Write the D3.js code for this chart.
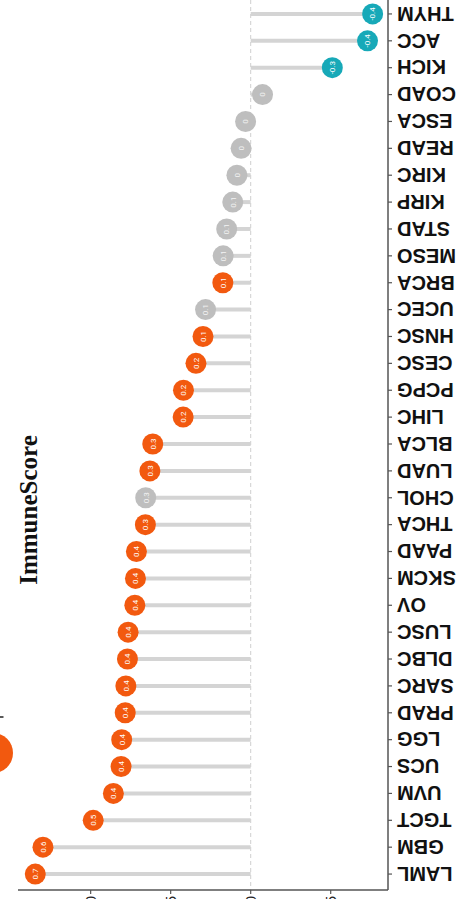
<!DOCTYPE html>
<html>
<head>
<meta charset="utf-8">
<script src="https://cdn.jsdelivr.net/npm/d3@7"></script>
<style>
  body { margin: 0; background: #fff; overflow: hidden; }
  svg { display: block; }
</style>
</head>
<body>
<div id="chart"></div>
<script>
// categories top to bottom as drawn
const cancers = ['THYM','ACC','KICH','COAD','ESCA','READ','KIRC','KIRP','STAD','MESO','BRCA',
  'UCEC','HNSC','CESC','PCPG','LIHC','BLCA','LUAD','CHOL','THCA','PAAD','SKCM','OV',
  'LUSC','DLBC','SARC','PRAD','LGG','UCS','UVM','TGCT','GBM','LAML'];
// correlation with ImmuneScore
const scores = [-0.381,-0.365,-0.255,-0.037,0.016,0.030,0.043,0.056,0.075,0.086,0.087,
  0.141,0.149,0.171,0.210,0.211,0.306,0.315,0.328,0.329,0.357,0.360,0.362,
  0.383,0.385,0.390,0.392,0.403,0.405,0.429,0.492,0.649,0.673];
// pos = significant positive, neg = significant negative, ns = not significant
const groups = ['neg','neg','neg','ns','ns','ns','ns','ns','ns','ns','pos',
  'ns','pos','pos','pos','pos','pos','pos','ns','pos','pos','pos','pos',
  'pos','pos','pos','pos','pos','pos','pos','pos','pos','pos'];
const xTicks = [0.5, 0.25, 0, -0.25];
const xTickLabels = ['0.50', '0.25', '0.00', '-0.25'];

const W = 462, H = 899;
const colors = {pos: '#F2590F', neg: '#17A9B8', ns: '#BEBEBE'};

const svg = d3.select('#chart').append('svg')
  .attr('width', W)
  .attr('height', H);

const axisY = 890, axisX = 388;

const xScale = d3.scaleLinear()
  .domain([0.727, -0.429])
  .range([18, axisX]);

const yScale = d3.scalePoint()
  .domain(cancers)
  .range([0.5, 887.5])
  .padding(0.5);

const data = cancers.map((c, i) => ({name: c, value: scores[i], group: groups[i]}));

// zero reference line
svg.append('line')
  .attr('x1', xScale(0)).attr('x2', xScale(0))
  .attr('y1', 0).attr('y2', axisY)
  .attr('stroke', '#cfcfcf')
  .attr('stroke-width', 1)
  .attr('stroke-dasharray', '4,3');

// stems
svg.append('g').selectAll('line')
  .data(data)
  .enter()
  .append('line')
    .attr('x1', xScale(0))
    .attr('x2', d => xScale(d.value))
    .attr('y1', d => yScale(d.name))
    .attr('y2', d => yScale(d.name))
    .attr('stroke', '#d4d4d4')
    .attr('stroke-width', 4);

// heads
let heads = svg.append('g').selectAll('g')
  .data(data)
  .enter()
  .append('g')
    .attr('transform', d => `translate(${xScale(d.value)},${yScale(d.name)})`);

heads.append('circle')
  .attr('r', 10.5)
  .attr('fill', d => colors[d.group]);

heads.append('text')
  .attr('transform', 'rotate(-90)')
  .attr('text-anchor', 'middle')
  .attr('dy', '0.35em')
  .attr('fill', d => d.group == 'ns' ? '#f4f4f4' : '#ffffff')
  .style('font-family', 'Roboto, "Liberation Sans", sans-serif')
  .style('font-size', '8px')
  .text(d => String(Math.round(d.value * 10) / 10));

// category axis (right side)
let yAxisG = svg.append('g')
  .attr('transform', `translate(${axisX},0)`);
yAxisG.append('line')
  .attr('x1', 0).attr('x2', 0)
  .attr('y1', 0).attr('y2', axisY)
  .attr('stroke', '#555')
  .attr('stroke-width', 1.5);
yAxisG.selectAll('.tick')
  .data(cancers)
  .enter()
  .append('line')
    .attr('class', 'tick')
    .attr('x1', 0).attr('x2', 4)
    .attr('y1', d => yScale(d)).attr('y2', d => yScale(d))
    .attr('stroke', '#555')
    .attr('stroke-width', 1.2);
yAxisG.selectAll('text')
  .data(cancers)
  .enter()
  .append('text')
    .attr('transform', d => `translate(9,${yScale(d)}) rotate(180)`)
    .attr('text-anchor', 'end')
    .attr('dy', '0.36em')
    .attr('fill', '#111')
    .style('font-family', '"Liberation Sans", Arial, sans-serif')
    .style('font-weight', 'bold')
    .style('font-size', '20px')
    .text(d => d);

// value axis (bottom), labels run off the bottom edge as in the source
let xAxisG = svg.append('g')
  .attr('transform', `translate(0,${axisY})`);
xAxisG.append('line')
  .attr('x1', 18).attr('x2', axisX)
  .attr('y1', 0).attr('y2', 0)
  .attr('stroke', '#555')
  .attr('stroke-width', 1.5);
xAxisG.selectAll('.tick')
  .data(xTicks)
  .enter()
  .append('line')
    .attr('x1', d => xScale(d)).attr('x2', d => xScale(d))
    .attr('y1', 0).attr('y2', 4)
    .attr('stroke', '#555')
    .attr('stroke-width', 1.2);
xAxisG.selectAll('text')
  .data(xTicks)
  .enter()
  .append('text')
    .attr('transform', d => `translate(${xScale(d)},6) rotate(-90)`)
    .attr('text-anchor', 'end')
    .attr('dy', '0.35em')
    .attr('fill', '#222')
    .style('font-family', '"Liberation Sans", Arial, sans-serif')
    .style('font-size', '14px')
    .text((d, i) => xTickLabels[i]);

// title
svg.append('text')
  .attr('transform', 'translate(37,510) rotate(-90)')
  .attr('text-anchor', 'middle')
  .attr('fill', '#111')
  .style('font-family', '"Liberation Serif", "Times New Roman", serif')
  .style('font-weight', 'bold')
  .style('font-size', '25px')
  .text('ImmuneScore');

// legend remnants at the left edge
svg.append('circle')
  .attr('cx', -7).attr('cy', 753)
  .attr('r', 20)
  .attr('fill', colors.pos);
svg.append('line')
  .attr('x1', 0).attr('x2', 3.5)
  .attr('y1', 717).attr('y2', 717)
  .attr('stroke', '#222')
  .attr('stroke-width', 1.5);
svg.append('text')
  .attr('transform', 'translate(-6,890) rotate(-90)')
  .attr('text-anchor', 'middle')
  .attr('dy', '0.35em')
  .attr('fill', '#222')
  .style('font-family', '"Liberation Sans", Arial, sans-serif')
  .style('font-size', '14px')
  .text('6');
</script>
</body>
</html>
